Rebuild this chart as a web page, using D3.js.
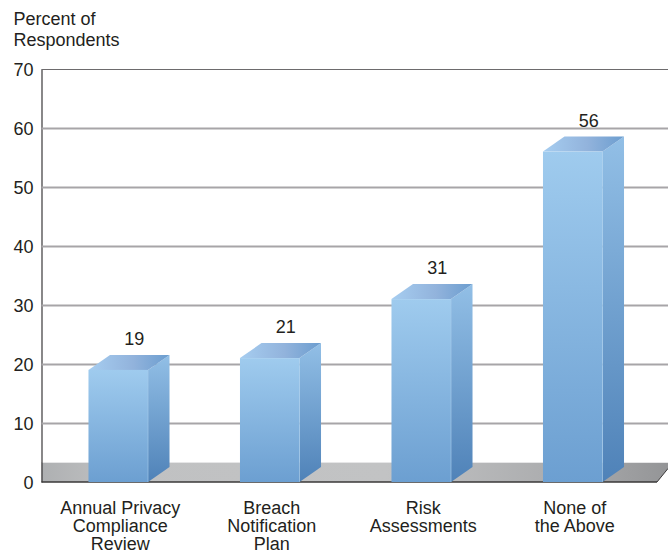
<!DOCTYPE html>
<html>
<head>
<meta charset="utf-8">
<script src="https://cdn.jsdelivr.net/npm/d3@7"></script>
<style>
  html, body { margin: 0; padding: 0; background: #fff; }
  svg { display: block; }
  text { font-family: "Liberation Sans", Arial, sans-serif; fill: #231f20; font-size: 18px; }
</style>
</head>
<body>
<svg id="chart" width="668" height="554"></svg>
<script>
// Survey responses, percent of respondents per practice
const categories = ["Annual Privacy|Compliance|Review", "Breach|Notification|Plan", "Risk|Assessments", "None of|the Above"];
const values = [19, 21, 31, 56];
const yTicks = [0, 10, 20, 30, 40, 50, 60, 70];
const titleLines = ["Percent of", "Respondents"];

const width = 668;
const left = 41.5, baseY = 482, topY = 69;
const depthX = 21.5, depthY = 15;
const floorTop = 462;

const svg = d3.select("#chart");
const defs = svg.append("defs");

function gradient(id, dir, stops) {
  const g = defs.append("linearGradient").attr("id", id)
    .attr("x1", 0).attr("y1", 0)
    .attr("x2", dir === "h" ? 1 : 0).attr("y2", dir === "h" ? 0 : 1);
  stops.forEach(([o, c]) => g.append("stop").attr("offset", o).attr("stop-color", c));
}
gradient("front", "v", [[0, "#9fcbee"], [1, "#6c9fd1"]]);
gradient("side", "v", [[0, "#92bfe6"], [1, "#4f82b8"]]);
gradient("cap", "h", [[0, "#a6cdf0"], [0.55, "#92b3dc"], [1, "#6b9dcf"]]);
gradient("floor", "h", [[0, "#aeb0b2"], [0.12, "#c0c1c2"], [0.55, "#c2c3c4"], [0.85, "#a9aaac"], [1, "#949597"]]);

const y = d3.scaleLinear().domain([0, 70]).range([baseY, topY]);
const x = d3.scaleBand().domain(categories)
  .range([42.5, 648.5]).paddingInner(0.607).paddingOuter(0.3035);
const line = d3.line();

// Floor slab running off the right edge
svg.append("path")
  .attr("d", line([[left, floorTop], [width, floorTop], [width, 468.5], [657, baseY], [left, baseY]]))
  .attr("fill", "url(#floor)");
svg.append("line").attr("x1", left).attr("x2", width)
  .attr("y1", floorTop + 0.5).attr("y2", floorTop + 0.5)
  .attr("stroke", "#e6e6e7").attr("stroke-width", 1);

// Value axis with gridlines
const axis = d3.axisLeft(y).tickValues(yTicks).tickSize(0).tickPadding(8);
const yAxis = svg.append("g").attr("transform", `translate(${left},0)`).call(axis);
yAxis.select(".domain").attr("stroke", "#3a3839").attr("stroke-width", 1.2);
yAxis.selectAll(".tick text").style("font-size", "18px").attr("dy", "0.34em");
yAxis.selectAll(".tick").filter(d => d > 0 && d < 70).append("line")
  .attr("x2", width - left).attr("stroke", "#a7a5a8").attr("stroke-width", 2);
yAxis.selectAll(".tick").filter(d => d === 70).append("line")
  .attr("x2", width - left).attr("stroke", "#6d6b6d").attr("stroke-width", 1.2);

// Baseline stops where the floor's front edge ends
svg.append("line").attr("x1", left).attr("x2", 657)
  .attr("y1", baseY).attr("y2", baseY).attr("stroke", "#3a3839").attr("stroke-width", 1.6);
svg.append("line").attr("x1", 657).attr("x2", width)
  .attr("y1", baseY).attr("y2", 468.5).attr("stroke", "#3a3839").attr("stroke-width", 1);

// Extruded bars: front face, side face, top cap
const bars = svg.append("g").selectAll("g")
  .data(categories.map((c, i) => ({ c, v: values[i] })))
  .join("g");

bars.append("path").attr("fill", "url(#side)")
  .attr("d", d => {
    const x1 = x(d.c) + x.bandwidth();
    return line([[x1, y(d.v)], [x1 + depthX, y(d.v) - depthY], [x1 + depthX, baseY - depthY], [x1, baseY]]);
  });
bars.append("path").attr("fill", "url(#cap)")
  .attr("d", d => {
    const x0 = x(d.c), x1 = x0 + x.bandwidth(), t = y(d.v);
    return line([[x0, t], [x0 + depthX, t - depthY], [x1 + depthX, t - depthY], [x1, t]]);
  });
bars.append("rect").attr("fill", "url(#front)")
  .attr("x", d => x(d.c)).attr("y", d => y(d.v))
  .attr("width", x.bandwidth()).attr("height", d => baseY - y(d.v));
bars.append("line")
  .attr("x1", d => x(d.c) + x.bandwidth()).attr("x2", d => x(d.c) + x.bandwidth())
  .attr("y1", d => y(d.v)).attr("y2", baseY)
  .attr("stroke", "#a9cdec").attr("stroke-opacity", 0.6).attr("stroke-width", 1);

// Value labels above each bar
bars.append("text").attr("text-anchor", "middle")
  .attr("x", d => x(d.c) + x.bandwidth() / 2 + 16)
  .attr("y", d => y(d.v) - depthY - 10)
  .text(d => d.v);

// Category labels, split on "|"
const catLabels = svg.append("g").selectAll("text")
  .data(categories).join("text").attr("text-anchor", "middle")
  .attr("transform", c => `translate(${x(c) + x.bandwidth() / 2 + 2},513.5)`);
catLabels.selectAll("tspan").data(c => c.split("|")).join("tspan")
  .attr("x", 0).attr("y", (_, i) => i * 18.2).text(t => t);

// Axis caption
svg.append("g").selectAll("text").data(titleLines).join("text")
  .attr("x", 13.5).attr("y", (_, i) => 25 + i * 21).text(t => t);
</script>
</body>
</html>
